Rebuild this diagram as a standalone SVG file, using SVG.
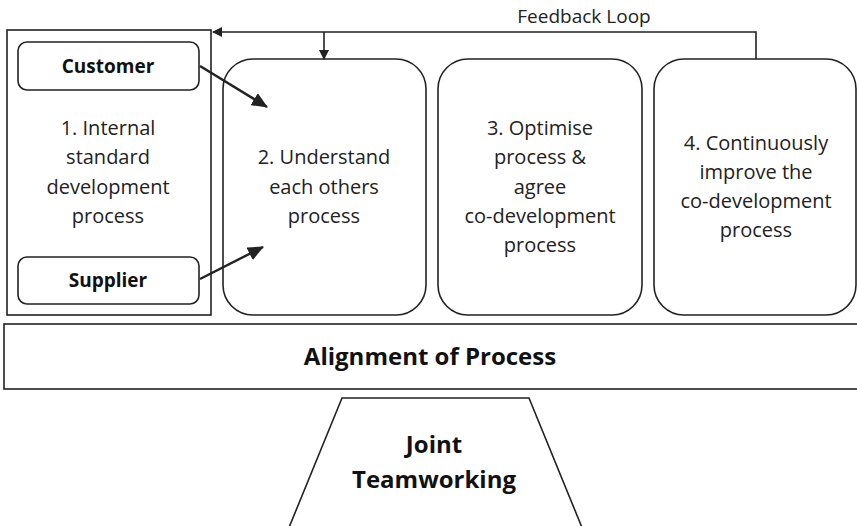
<svg xmlns="http://www.w3.org/2000/svg" width="857" height="526" viewBox="0 0 857 526">
<style>
.box{fill:#fff;stroke:#222;stroke-width:1.6}
.t{font-family:"Open Sans","Liberation Sans",sans-serif;font-size:20px;fill:#222;text-anchor:middle}
.b{font-family:"Open Sans","Liberation Sans",sans-serif;font-size:19px;font-weight:bold;fill:#111;text-anchor:middle}
.bb{font-family:"Open Sans","Liberation Sans",sans-serif;font-size:24px;font-weight:bold;fill:#111;text-anchor:middle}
.c{fill:none;stroke:#222;stroke-width:1.6}
.ca{fill:none;stroke:#222;stroke-width:2.4}
</style>
<defs>
<marker id="ah" markerWidth="10" markerHeight="10" refX="9" refY="5" orient="auto" markerUnits="userSpaceOnUse"><path d="M0,0 L10,5 L0,10 z" fill="#222"/></marker>
<marker id="ahb" markerWidth="16" markerHeight="14" refX="15" refY="7" orient="auto" markerUnits="userSpaceOnUse"><path d="M0,0 L16,7 L0,14 z" fill="#222"/></marker>
</defs>
<g id="node1">
<rect class="box" x="7" y="30" width="204" height="285"/>
<text class="t" x="108" y="135">1. Internal</text>
<text class="t" x="108" y="164">standard</text>
<text class="t" x="108" y="194">development</text>
<text class="t" x="108" y="223">process</text>
</g>
<g id="customer">
<rect class="box" x="18" y="42" width="181" height="48" rx="9"/>
<text class="b" x="108" y="73">Customer</text>
</g>
<g id="supplier">
<rect class="box" x="18" y="257" width="181" height="47" rx="9"/>
<text class="b" x="108" y="287">Supplier</text>
</g>
<g id="node2">
<rect class="box" x="223" y="59" width="203" height="256" rx="30"/>
<text class="t" x="324" y="164">2. Understand</text>
<text class="t" x="324" y="194">each others</text>
<text class="t" x="324" y="223">process</text>
</g>
<g id="node3">
<rect class="box" x="438" y="59" width="204" height="256" rx="30"/>
<text class="t" x="540" y="135">3. Optimise</text>
<text class="t" x="540" y="164">process &amp;</text>
<text class="t" x="540" y="194">agree</text>
<text class="t" x="540" y="223">co-development</text>
<text class="t" x="540" y="252">process</text>
</g>
<g id="node4">
<rect class="box" x="654" y="59" width="202" height="256" rx="30"/>
<text class="t" x="756" y="150">4. Continuously</text>
<text class="t" x="756" y="179">improve the</text>
<text class="t" x="756" y="208">co-development</text>
<text class="t" x="756" y="237">process</text>
</g>
<g id="alignment">
<rect class="box" x="4" y="324" width="860" height="65"/>
<text class="bb" x="430" y="365">Alignment of Process</text>
</g>
<g id="teamworking">
<polygon class="box" points="342,398 529,398 583,530 288,530"/>
<text class="bb" x="434" y="453">Joint</text>
<text class="bb" x="434" y="488">Teamworking</text>
</g>
<g id="connectors">
<polyline class="c" points="756,59 756,32 213,32" marker-end="url(#ah)"/>
<line class="c" x1="324" y1="32" x2="324" y2="59" marker-end="url(#ah)"/>
<text class="t" x="584" y="23" style="font-size:19px">Feedback Loop</text>
<line class="ca" x1="200" y1="66" x2="267" y2="107" marker-end="url(#ahb)"/>
<line class="ca" x1="200" y1="279" x2="263" y2="247" marker-end="url(#ahb)"/>
</g>
</svg>
